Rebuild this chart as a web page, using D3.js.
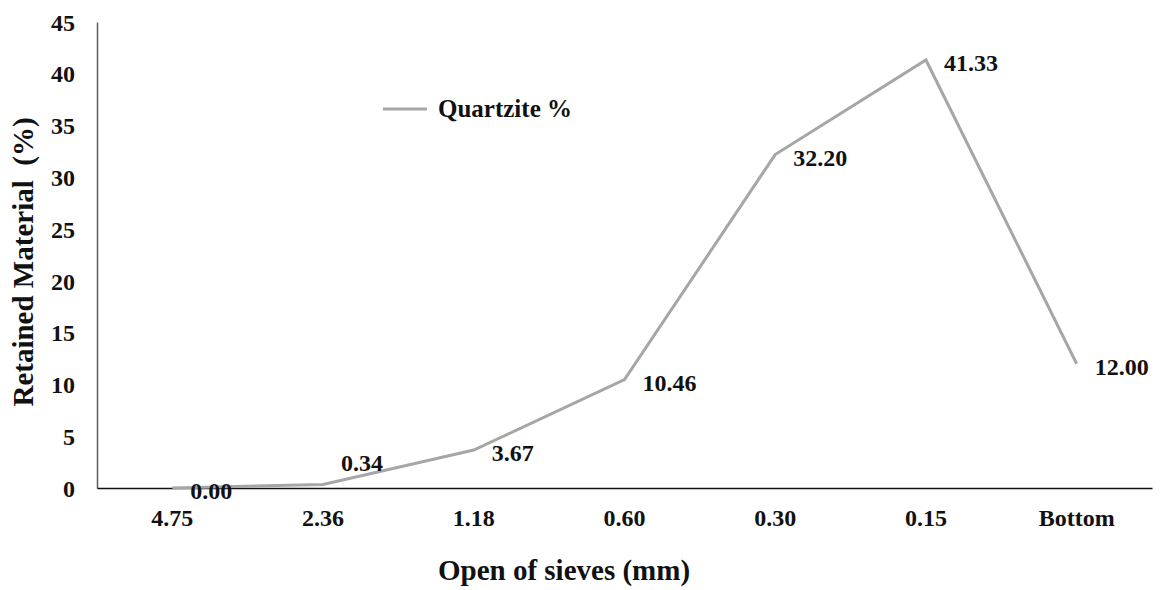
<!DOCTYPE html>
<html>
<head>
<meta charset="utf-8">
<script src="https://cdn.jsdelivr.net/npm/d3@7"></script>
<style>
  html, body { margin: 0; padding: 0; background: #fff; }
  svg text { font-family: "Liberation Serif", "Times New Roman", serif; font-weight: bold; fill: #111; }
</style>
</head>
<body>
<svg id="chart" width="1162" height="590"></svg>
<script>
const categories = ["4.75", "2.36", "1.18", "0.60", "0.30", "0.15", "Bottom"];
const quartzite = [0.00, 0.34, 3.67, 10.46, 32.20, 41.33, 12.00];
const yTicks = [0, 5, 10, 15, 20, 25, 30, 35, 40, 45];
const seriesName = "Quartzite %";
const xTitle = "Open of sieves (mm)";
const yTitle = "Retained Material  (%)";

(function () {
const svg = d3.select("#chart");
const mL = 97, mR = 1152, mT = 22, mB = 488;

const x = d3.scaleBand().domain(categories).range([mL, mR]).padding(0);
const y = d3.scaleLinear().domain([0, 45]).range([mB, mT]);
const cx = d => x(d) + x.bandwidth() / 2;

// Y axis
const yAxis = svg.append("g").attr("transform", `translate(${mL},0)`)
  .call(d3.axisLeft(y).tickValues(yTicks).tickSize(0).tickPadding(22).tickFormat(d3.format("d")));
yAxis.select(".domain").attr("stroke", "#5e5e5e").attr("stroke-width", 1.5);
yAxis.selectAll("text").style("font-size", "24px").attr("dy", "0.34em").attr("fill", "#111");

// X axis
const xAxis = svg.append("g").attr("transform", `translate(0,${mB})`)
  .call(d3.axisBottom(x).tickSize(0).tickPadding(30));
xAxis.select(".domain").attr("stroke", "#111").attr("stroke-width", 1.5);
xAxis.selectAll("text").style("font-size", "24px").attr("dy", "0.34em").attr("fill", "#111");

// Line
const pts = categories.map((c, i) => ({ c, v: quartzite[i] }));
svg.append("path").datum(pts)
  .attr("fill", "none").attr("stroke", "#a6a6a6").attr("stroke-width", 3)
  .attr("stroke-linejoin", "miter")
  .attr("d", d3.line().x(d => cx(d.c)).y(d => y(d.v)));

// Data labels
svg.append("g").selectAll("text").data(pts).join("text")
  .attr("x", d => cx(d.c) + 18)
  .attr("y", (d, i) => y(d.v) + (i === 1 ? -13 : 11))
  .style("font-size", "24px")
  .text(d => d.v.toFixed(2));

// Legend
const lg = svg.append("g");
lg.append("line").attr("x1", 383).attr("x2", 427).attr("y1", 109).attr("y2", 109)
  .attr("stroke", "#a6a6a6").attr("stroke-width", 3);
lg.append("text").attr("x", 438).attr("y", 117).style("font-size", "25px").text(seriesName);

// Axis titles
svg.append("text").attr("x", 564).attr("y", 580).attr("text-anchor", "middle")
  .style("font-size", "29px").text(xTitle);
svg.append("text").attr("transform", "translate(33,262) rotate(-90)").attr("text-anchor", "middle")
  .style("font-size", "29px").style("white-space", "pre").text(yTitle);
})();
</script>
</body>
</html>
